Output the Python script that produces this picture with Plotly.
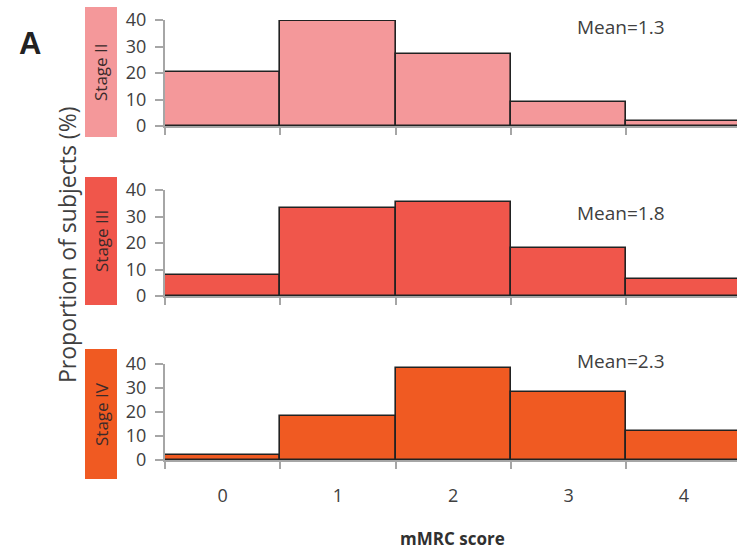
import plotly.graph_objects as go

W, H = 737, 550
scores = ["0", "1", "2", "3", "4"]
stage_ii = [20.5, 39.6, 27.3, 9.2, 2]
stage_iii = [8, 33.2, 35.5, 18, 6.4]
stage_iv = [2, 18.3, 38.2, 28.2, 12.2]
stage_names = ["Stage II", "Stage III", "Stage IV"]
means = ["Mean=1.3", "Mean=1.8", "Mean=2.3"]
colors = ["#F4989A", "#F0564B", "#F05A22"]
y_ticks = [0, 10, 20, 30, 40]

series = [stage_ii, stage_iii, stage_iv]

def py(px):
    return 1 - px / H

# pixel positions: (zero line, 40 line)
panels = [(126, 20), (296, 190), (460, 364)]
boxes = [(7, 137), (177, 305), (349, 479)]
mean_y = [27, 213, 361]

fig = go.Figure()
font = "Open Sans, DejaVu Sans, sans-serif"
x0 = 165 / W
bar_px = 115.3
xr = [-0.5, -0.5 + (W - 165) / bar_px]

def note(x, y, text, size, color, angle=0, family=font):
    fig.add_annotation(xref="paper", yref="paper", x=x / W, y=py(y),
                       xanchor="center", yanchor="middle",
                       text=text, textangle=angle, showarrow=False,
                       font=dict(family=family, size=size, color=color))

for i, vals in enumerate(series):
    n = "" if i == 0 else str(i + 1)
    fig.add_trace(go.Bar(
        x=scores, y=vals, width=1,
        marker=dict(color=colors[i], line=dict(color="#222222", width=1.6)),
        xaxis="x" + n, yaxis="y" + n, showlegend=False,
    ))
    z, t = panels[i]
    fig.layout["xaxis" + n] = dict(
        type="category", domain=[x0, 1], range=xr, anchor="y" + n,
        showline=True, linecolor="#A6A6A6", linewidth=2,
        ticks="outside", tickson="boundaries", ticklen=7, tickcolor="#A6A6A6", tickwidth=1.5,
        showticklabels=(i == 2), showgrid=False, zeroline=False,
        tickfont=dict(family=font, size=18, color="#404040"),
        ticklabelstandoff=18, automargin=False,
    )
    fig.layout["yaxis" + n] = dict(
        domain=[py(z), py(t)], range=[0, 40], anchor="x" + n,
        showline=True, linecolor="#A6A6A6", linewidth=2,
        ticks="outside", ticklen=8, tickcolor="#A6A6A6", tickwidth=1.5,
        tickvals=y_ticks, showgrid=False, zeroline=False,
        tickfont=dict(family=font, size=18, color="#404040"),
        ticklabelstandoff=5, automargin=False,
    )
    b0, b1 = boxes[i]
    fig.add_shape(type="rect", xref="paper", yref="paper",
                  x0=85 / W, x1=117 / W, y0=py(b1), y1=py(b0),
                  fillcolor=colors[i], line=dict(width=0), layer="below")
    note(101, (b0 + b1) / 2, stage_names[i], 17, "#3a2a2a", angle=-90)
    note(621, mean_y[i], means[i], 19, "#404040")

note(67, 245, "Proportion of subjects (%)", 23, "#404040", angle=-90)
note(452, 538, "<b>mMRC score</b>", 17, "#303030")
note(30, 44, "<b>A</b>", 31, "#222222", family="Liberation Sans, Arial, sans-serif")

fig.update_layout(width=W, height=H, margin=dict(l=0, r=0, t=0, b=0),
                  plot_bgcolor="white", paper_bgcolor="white", bargap=0)
fig.write_html("out.html")
